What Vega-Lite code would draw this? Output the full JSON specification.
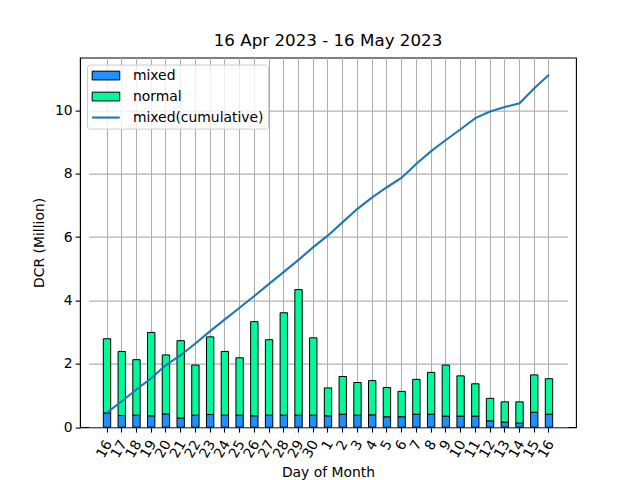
{
  "$schema": "https://vega.github.io/schema/vega-lite/v6.json",
  "width": 496,
  "height": 369.6,
  "autosize": {"type": "none"},
  "padding": {"left": 80, "top": 57.6, "right": 64, "bottom": 52.8},
  "background": "white",
  "title": {"text": "16 Apr 2023 - 16 May 2023", "fontSize": 16.7, "fontWeight": "normal", "font": "DejaVu Sans", "color": "black", "offset": 8},
  "data": {"values": [
    {"date": "2023-04-16", "mixed": 0.45, "normal": 2.34, "cumulative": 0.46},
    {"date": "2023-04-17", "mixed": 0.37, "normal": 2.02, "cumulative": 0.82},
    {"date": "2023-04-18", "mixed": 0.38, "normal": 1.75, "cumulative": 1.19},
    {"date": "2023-04-19", "mixed": 0.36, "normal": 2.63, "cumulative": 1.55},
    {"date": "2023-04-20", "mixed": 0.42, "normal": 1.86, "cumulative": 1.96},
    {"date": "2023-04-21", "mixed": 0.29, "normal": 2.44, "cumulative": 2.27},
    {"date": "2023-04-22", "mixed": 0.38, "normal": 1.58, "cumulative": 2.64},
    {"date": "2023-04-23", "mixed": 0.40, "normal": 2.45, "cumulative": 3.03},
    {"date": "2023-04-24", "mixed": 0.38, "normal": 2.01, "cumulative": 3.40},
    {"date": "2023-04-25", "mixed": 0.38, "normal": 1.81, "cumulative": 3.77},
    {"date": "2023-04-26", "mixed": 0.36, "normal": 2.97, "cumulative": 4.14},
    {"date": "2023-04-27", "mixed": 0.38, "normal": 2.38, "cumulative": 4.52},
    {"date": "2023-04-28", "mixed": 0.38, "normal": 3.23, "cumulative": 4.90},
    {"date": "2023-04-29", "mixed": 0.38, "normal": 3.96, "cumulative": 5.28},
    {"date": "2023-04-30", "mixed": 0.38, "normal": 2.44, "cumulative": 5.68},
    {"date": "2023-05-01", "mixed": 0.36, "normal": 0.88, "cumulative": 6.05},
    {"date": "2023-05-02", "mixed": 0.41, "normal": 1.19, "cumulative": 6.47},
    {"date": "2023-05-03", "mixed": 0.38, "normal": 1.03, "cumulative": 6.89},
    {"date": "2023-05-04", "mixed": 0.39, "normal": 1.08, "cumulative": 7.25},
    {"date": "2023-05-05", "mixed": 0.33, "normal": 0.92, "cumulative": 7.57},
    {"date": "2023-05-06", "mixed": 0.33, "normal": 0.80, "cumulative": 7.87},
    {"date": "2023-05-07", "mixed": 0.41, "normal": 1.10, "cumulative": 8.31},
    {"date": "2023-05-08", "mixed": 0.41, "normal": 1.32, "cumulative": 8.71},
    {"date": "2023-05-09", "mixed": 0.35, "normal": 1.61, "cumulative": 9.06},
    {"date": "2023-05-10", "mixed": 0.35, "normal": 1.27, "cumulative": 9.40},
    {"date": "2023-05-11", "mixed": 0.35, "normal": 1.02, "cumulative": 9.75},
    {"date": "2023-05-12", "mixed": 0.20, "normal": 0.71, "cumulative": 9.96},
    {"date": "2023-05-13", "mixed": 0.16, "normal": 0.64, "cumulative": 10.10},
    {"date": "2023-05-14", "mixed": 0.13, "normal": 0.67, "cumulative": 10.22},
    {"date": "2023-05-15", "mixed": 0.47, "normal": 1.18, "cumulative": 10.69},
    {"date": "2023-05-16", "mixed": 0.41, "normal": 1.12, "cumulative": 11.12}
  ]},
  "encoding": {
    "x": {
      "field": "date", "type": "ordinal",
      "scale": {"paddingInner": 0.5, "paddingOuter": 1, "range": [8.6, 487.4]},
      "axis": {
        "title": "Day of Month",
        "labelAngle": -60,
        "labelExpr": "toNumber(slice(datum.label, 8))",
        "labelOffset": 2,
        "labelPadding": 9,
        "grid": true,
        "domain": false,
        "bandPosition": 0.5,
        "titlePadding": 6
      }
    }
  },
  "layer": [
    {
      "transform": [{"fold": ["mixed", "normal"], "as": ["series", "value"]}],
      "mark": {"type": "bar", "stroke": "black", "strokeWidth": 1},
      "encoding": {
        "y": {
          "field": "value", "type": "quantitative", "stack": "zero",
          "scale": {"domain": [0, 11.66], "nice": false, "zero": true},
          "axis": {"title": "DCR (Million)", "values": [0, 2, 4, 6, 8, 10], "grid": true, "titlePadding": 8}
        },
        "color": {
          "field": "series", "type": "nominal",
          "scale": {"domain": ["mixed", "normal", "mixed(cumulative)"], "range": ["#1E90FF", "#00FA9A", "#1f77b4"]},
          "legend": {
            "title": null,
            "orient": "top-left",
            "offset": 7,
            "padding": 4,
            "fillColor": "rgba(255,255,255,0.8)",
            "strokeColor": "#cccccc",
            "cornerRadius": 3,
            "labelFontSize": 13.9,
            "labelColor": "black",
            "labelFont": "DejaVu Sans",
            "symbolSize": 200,
            "symbolOffset": 8,
            "labelOffset": 20,
            "rowPadding": 6,
            "symbolOpacity": 1,
            "symbolType": {"expr": "datum.value === 'mixed(cumulative)' ? 'M-1.95,-0.15H1.95V0.15H-1.95Z' : 'M-1.95,-0.62H1.95V0.62H-1.95Z'"},
            "symbolStrokeColor": "black",
            "symbolStrokeWidth": {"expr": "datum.value === 'mixed(cumulative)' ? 0 : 1"}
          }
        },
        "order": {"field": "series", "sort": "ascending"}
      }
    },
    {
      "mark": {"type": "line", "strokeWidth": 2.1, "color": "#1f77b4"},
      "encoding": {
        "y": {"field": "cumulative", "type": "quantitative"}
      }
    }
  ],
  "config": {
    "font": "DejaVu Sans",
    "view": {"stroke": "black", "strokeWidth": 1.1},
    "axis": {
      "labelFontSize": 13.9,
      "labelColor": "black",
      "labelFont": "DejaVu Sans",
      "titleFontSize": 13.9,
      "titleFontWeight": "normal",
      "titleColor": "black",
      "titleFont": "DejaVu Sans",
      "tickColor": "black",
      "tickSize": 4.9,
      "tickWidth": 1.1,
      "labelPadding": 3,
      "domainColor": "black",
      "domainWidth": 1.1,
      "gridColor": "#b0b0b0",
      "gridWidth": 1.1
    }
  }
}
